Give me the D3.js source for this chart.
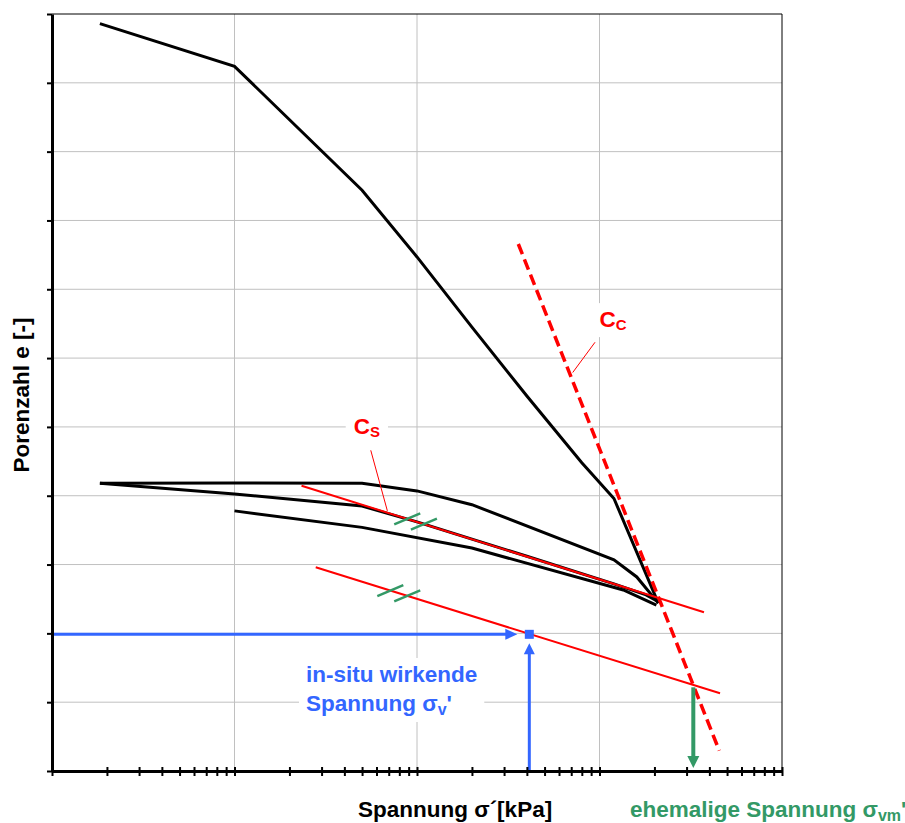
<!DOCTYPE html>
<html>
<head>
<meta charset="utf-8">
<script src="https://cdn.jsdelivr.net/npm/d3@7/dist/d3.min.js"></script>
<style>
  body { margin: 0; background: #fff; }
  text { font-family: "Liberation Sans", Arial, sans-serif; font-weight: bold; }
</style>
</head>
<body>
<div id="chart"></div>
<script>
// Oedometer curve: Spannung sigma' [kPa] (log) vs Porenzahl e [-]
var loadX = [1.83, 10, 50, 100, 200, 400, 800, 1200, 2100];
var loadE = [1.386, 1.324, 1.144, 1.047, 0.945, 0.845, 0.748, 0.696, 0.544];

var unloadX = [2100, 1600, 1200, 200, 100, 50, 10, 1.83];
var unloadE = [0.544, 0.582, 0.607, 0.687, 0.707, 0.718, 0.7185, 0.718];

var reloadX = [1.83, 10, 50, 100, 200, 400, 1200, 1800, 2100];
var reloadE = [0.718, 0.7025, 0.685, 0.662, 0.637, 0.612, 0.572, 0.556, 0.546];

var unload2X = [10, 50, 200, 1350, 2050];
var unload2E = [0.678, 0.654, 0.624, 0.563, 0.541];

// construction lines
var csX = [23.3, 3737],  csE = [0.7146, 0.5306];
var cs2X = [27.86, 4576], cs2E = [0.596, 0.4129];
var ccX = [359, 4533],   ccE = [1.0658, 0.3295];

// parallel markers (sigma positions on the Cs lines)
var markCs = [88.4, 109.1];
var markCs2 = [71.4, 88.4];

// in-situ and preconsolidation stress
var insitu = [412.5, 0.4986];
var vorbel = [3266, 0.4216];

// label anchors
var ccLabel = [1000, 0.945], ccLeader = [[945, 0.923], [713, 0.879]];
var csLabel = [45, 0.789],   csLeader = [[55.8, 0.766], [68.8, 0.678]];

var eTicks = [0.3, 0.4, 0.5, 0.6, 0.7, 0.8, 0.9, 1.0, 1.1, 1.2, 1.3, 1.4];
var xGrid = [10, 100, 1000];
var xMinor = [];
[1, 10, 100, 1000].forEach(function (d) {
    for (var k = 1; k < 10; k++) { xMinor.push(d * k); }
});
xMinor.push(10000);

var W = 905, H = 823;
var plot = { left: 52, right: 782, top: 14, bottom: 771 };

var RED = "#ff0000", BLUE = "#3366ff", GREEN = "#339966";
var FS = "22.5px", SUB = "16px";

var svg = d3.select("#chart").append("svg")
    .attr("width", W).attr("height", H)
    .style("background", "#fff");

var x = d3.scaleLog().domain([1, 10000]).range([plot.left, plot.right]);
var y = d3.scaleLinear().domain([0.3, 1.4]).range([plot.bottom, plot.top]);

// grid
svg.append("g").selectAll("line")
    .data(eTicks.slice(1, -1)).enter()
    .append("line")
    .attr("x1", plot.left).attr("x2", plot.right)
    .attr("y1", function (d) { return y(d); })
    .attr("y2", function (d) { return y(d); })
    .attr("stroke", "#c0c0c0").attr("stroke-width", 1);

svg.append("g").selectAll("line")
    .data(xGrid).enter()
    .append("line")
    .attr("x1", function (d) { return x(d); })
    .attr("x2", function (d) { return x(d); })
    .attr("y1", plot.top).attr("y2", plot.bottom)
    .attr("stroke", "#c0c0c0").attr("stroke-width", 1);

// frame top / right
svg.append("line").attr("x1", plot.left).attr("x2", plot.right).attr("y1", y(1.4)).attr("y2", y(1.4))
    .attr("stroke", "#000").attr("stroke-width", 1);
svg.append("line").attr("x1", x(10000)).attr("x2", x(10000)).attr("y1", plot.top).attr("y2", plot.bottom)
    .attr("stroke", "#000").attr("stroke-width", 1);

// labels with white background (they cut the grid)
function boxed(g, pad) {
    var bb = g.node().getBBox();
    g.insert("rect", ":first-child")
        .attr("x", bb.x - pad[0]).attr("y", bb.y - pad[1])
        .attr("width", bb.width + 2 * pad[0]).attr("height", bb.height + 2 * pad[1])
        .attr("fill", "#fff");
}

var gCc = svg.append("g");
var tCc = gCc.append("text").attr("x", x(ccLabel[0])).attr("y", y(ccLabel[1]))
    .attr("fill", RED).style("font-size", FS);
tCc.append("tspan").text("C");
tCc.append("tspan").attr("dy", 3).style("font-size", "15px").text("C");
boxed(gCc, [8, 4]);

var gCs = svg.append("g");
var tCs = gCs.append("text").attr("x", x(csLabel[0])).attr("y", y(csLabel[1]))
    .attr("fill", RED).style("font-size", FS);
tCs.append("tspan").text("C");
tCs.append("tspan").attr("dy", 3).style("font-size", "15px").text("S");
boxed(gCs, [8, 3]);

var gBlue = svg.append("g");
gBlue.append("text").attr("x", 306).attr("y", 682)
    .attr("fill", BLUE).style("font-size", FS)
    .text("in-situ wirkende");
var tB2 = gBlue.append("text").attr("x", 306).attr("y", 711)
    .attr("fill", BLUE).style("font-size", FS);
tB2.append("tspan").text("Spannung σ");
tB2.append("tspan").attr("dy", 4).style("font-size", SUB).text("v");
tB2.append("tspan").attr("dy", -4).text("'");
boxed(gBlue, [7, 4]);

// curves
var line = d3.line()
    .x(function (d) { return x(d[0]); })
    .y(function (d) { return y(d[1]); });

function pairs(xs, es) { return xs.map(function (v, i) { return [v, es[i]]; }); }

[[loadX, loadE], [unloadX, unloadE], [reloadX, reloadE], [unload2X, unload2E]].forEach(function (c) {
    svg.append("path")
        .datum(pairs(c[0], c[1]))
        .attr("d", line)
        .attr("fill", "none")
        .attr("stroke", "#000")
        .attr("stroke-width", 3);
});

// Cs lines
svg.append("path").datum(pairs(csX, csE)).attr("d", line)
    .attr("fill", "none").attr("stroke", RED).attr("stroke-width", 2);
svg.append("path").datum(pairs(cs2X, cs2E)).attr("d", line)
    .attr("fill", "none").attr("stroke", RED).attr("stroke-width", 2);

// Cc dashed
svg.append("path").datum(pairs(ccX, ccE)).attr("d", line)
    .attr("fill", "none").attr("stroke", RED).attr("stroke-width", 3.5)
    .attr("stroke-dasharray", "11,5.5");

// leaders
[ccLeader, csLeader].forEach(function (l) {
    svg.append("path").datum(l).attr("d", line)
        .attr("fill", "none").attr("stroke", RED).attr("stroke-width", 1);
});

// parallel markers
function onLine(xs, es, v) {
    var t = (Math.log(v) - Math.log(xs[0])) / (Math.log(xs[1]) - Math.log(xs[0]));
    return es[0] + t * (es[1] - es[0]);
}
function markers(vals, xs, es) {
    vals.forEach(function (v) {
        var cx = x(v), cy = y(onLine(xs, es, v));
        svg.append("line")
            .attr("x1", cx - 13).attr("y1", cy + 5.5)
            .attr("x2", cx + 13).attr("y2", cy - 5.5)
            .attr("stroke", GREEN).attr("stroke-width", 2.5);
    });
}
markers(markCs, csX, csE);
markers(markCs2, cs2X, cs2E);

// in-situ arrows
var px = x(insitu[0]), py = y(insitu[1]);
svg.append("line").attr("x1", plot.left).attr("x2", px - 20).attr("y1", py).attr("y2", py)
    .attr("stroke", BLUE).attr("stroke-width", 3);
svg.append("path")
    .attr("d", "M" + (px - 12) + "," + py + "L" + (px - 24) + "," + (py - 5.5) + "L" + (px - 24) + "," + (py + 5.5) + "Z")
    .attr("fill", BLUE);
svg.append("line").attr("x1", px).attr("x2", px).attr("y1", plot.bottom).attr("y2", py + 16)
    .attr("stroke", BLUE).attr("stroke-width", 3);
svg.append("path")
    .attr("d", "M" + px + "," + (py + 9) + "L" + (px - 5.5) + "," + (py + 20) + "L" + (px + 5.5) + "," + (py + 20) + "Z")
    .attr("fill", BLUE);
svg.append("rect").attr("x", px - 4.5).attr("y", py - 4.5).attr("width", 9).attr("height", 9)
    .attr("fill", BLUE);

// preconsolidation arrow
var vx = x(vorbel[0]), vy = y(vorbel[1]);
svg.append("line").attr("x1", vx).attr("x2", vx).attr("y1", vy).attr("y2", plot.bottom - 12)
    .attr("stroke", GREEN).attr("stroke-width", 4);
svg.append("path")
    .attr("d", "M" + vx + "," + (plot.bottom - 3) + "L" + (vx - 6) + "," + (plot.bottom - 15) + "L" + (vx + 6) + "," + (plot.bottom - 15) + "Z")
    .attr("fill", GREEN);

// axes
var xAxis = d3.axisBottom(x).tickValues(xMinor).tickFormat("").tickSizeOuter(0);
var gx = svg.append("g").attr("transform", "translate(0," + plot.bottom + ")").call(xAxis);
gx.select(".domain").attr("stroke", "#000").attr("stroke-width", 3);
gx.selectAll(".tick line").attr("y1", -4).attr("y2", 5).attr("stroke", "#000").attr("stroke-width", 2);

var yAxis = d3.axisLeft(y).tickValues(eTicks).tickFormat("").tickSize(5).tickSizeOuter(0);
var gy = svg.append("g").attr("transform", "translate(" + plot.left + ",0)").call(yAxis);
gy.select(".domain").attr("stroke", "#000").attr("stroke-width", 3);
gy.selectAll(".tick line").attr("stroke", "#000").attr("stroke-width", 2);

// axis titles
svg.append("text").attr("x", 358).attr("y", 817).attr("fill", "#000").style("font-size", FS)
    .text("Spannung σ´[kPa]");

svg.append("text")
    .attr("transform", "translate(29,395) rotate(-90)")
    .attr("text-anchor", "middle")
    .attr("fill", "#000").style("font-size", FS)
    .text("Porenzahl e [-]");

var gt = svg.append("text").attr("x", 630).attr("y", 817).attr("fill", GREEN).style("font-size", FS);
gt.append("tspan").text("ehemalige Spannung σ");
gt.append("tspan").attr("dy", 4).style("font-size", SUB).text("vm");
gt.append("tspan").attr("dy", -4).text("'");
</script>
</body>
</html>
